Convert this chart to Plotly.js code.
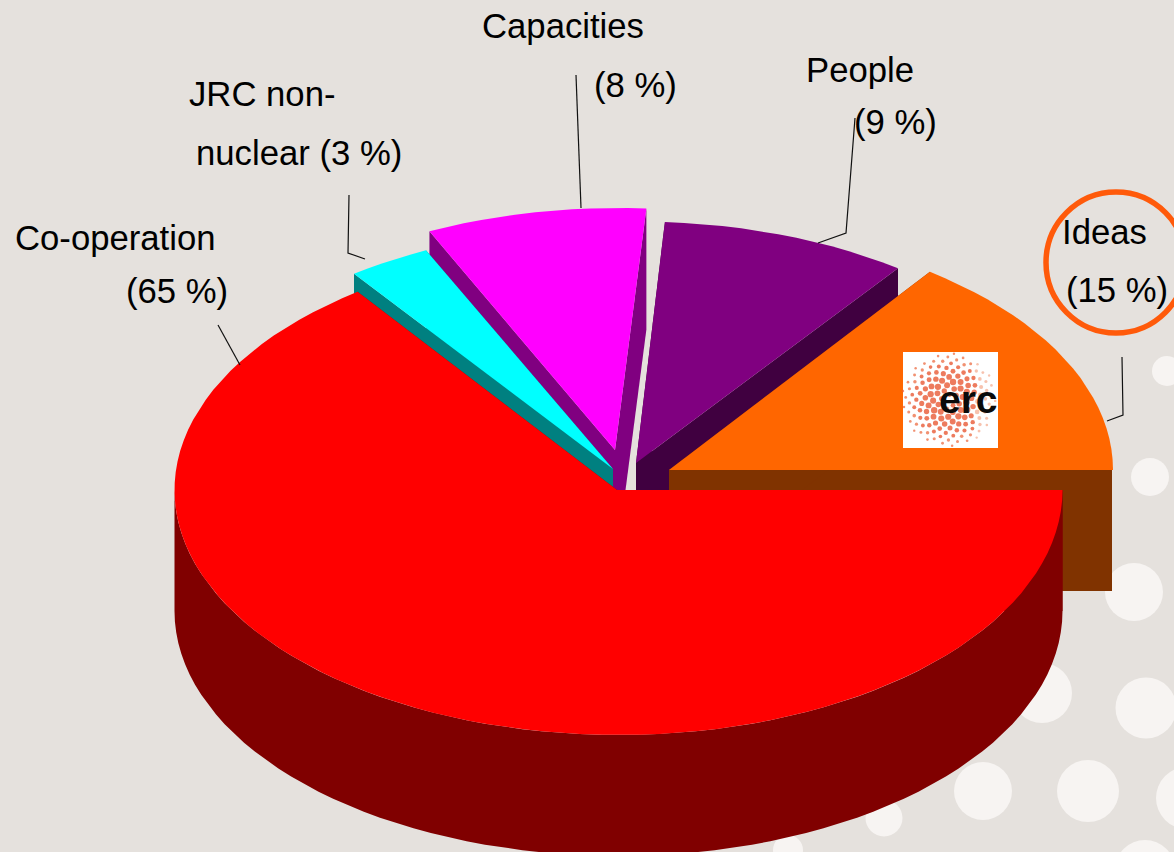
<!DOCTYPE html>
<html>
<head>
<meta charset="utf-8">
<script src="https://cdn.plot.ly/plotly-3.0.1.min.js"></script>
<style>html,body{margin:0;padding:0;background:#E5E1DD}#chart{width:1174px;height:852px}</style>
</head>
<body>
<div id="chart"></div>
<script>
// Data
const categories = ["Ideas", "People", "Capacities", "JRC non-nuclear", "Co-operation"];
const shares = [15, 9, 8, 3, 65];
const topColors = ["#FF6600", "#800080", "#FF00FF", "#00FFFF", "#FF0000"];
const sideColors = ["#803300", "#400040", "#800080", "#008080", "#800000"];
// Visible tip of each exploded slice, and centre of its rim ellipse, in picture pixels
const tipX = [669, 636, 615, 613, 617];
const tipY = [470, 463, 450, 469, 490];
const rimX = [669, 637, 618.5, 615, 618.5];
const rimY = [470, 466.5, 453, 472, 490];
const drawOrder = [2, 1, 0, 3, 4];
const radiusX = 444, radiusY = 245, depth = 121;

// Label texts
const labelTexts = ["Capacities", "(8 %)", "JRC non-", "nuclear (3 %)", "People", "(9 %)", "Co-operation", "(65 %)", "Ideas", "(15 %)"];
const labelX = [481, 593, 188, 195, 805, 853, 14, 125, 1061, 1065];
const labelY = [26, 85, 94, 153, 70, 122, 238, 291, 232, 290];

// Leader lines
const leaderX = [[576, 581], [349, 348, 365], [855, 846, 818], [1122, 1123, 1107], [218, 240]];
const leaderY = [[75, 208], [195, 253, 259], [118, 233, 243], [357, 415, 421], [325, 365]];

// Background decoration
const dotX = [1167, 1150, 1134, 1042, 1146, 983, 1088, 1187, 884, 788, 1145];
const dotY = [371, 477, 592, 693, 708, 791, 791, 798, 818, 850, 870];
const dotR = [15, 19, 29, 30, 30.5, 29, 31, 31, 18.5, 15, 30];

const rad = d => d * Math.PI / 180;
function arc(cx, cy, a0, a1, dy) {
  const xs = [], ys = [], n = Math.max(1, Math.ceil(Math.abs(a1 - a0) / 2.5));
  for (let i = 0; i <= n; i++) {
    const t = rad(a0 + (a1 - a0) * i / n);
    xs.push(cx + radiusX * Math.cos(t));
    ys.push(cy - radiusY * Math.sin(t) + dy);
  }
  return [xs, ys];
}
function poly(xs, ys, color, name) {
  return {type: "scatter", mode: "lines", x: xs.concat(xs[0]), y: ys.concat(ys[0]), fill: "toself",
    fillcolor: color, line: {width: 0, color: color}, name: name, hoverinfo: "name", showlegend: false};
}

const traces = [];
const starts = [];
shares.reduce((sum, v, i) => { starts[i] = sum; return sum + v; }, 0);
drawOrder.forEach(i => {
  const a0 = starts[i] * 3.6, a1 = (starts[i] + shares[i]) * 3.6;
  const tx0 = tipX[i], ty0 = tipY[i], cx = rimX[i], cy = rimY[i];
  [a0, a1].forEach(a => {
    const [ex, ey] = arc(cx, cy, a, a, 0);
    const sx = Math.min(ex[0], 1112);
    traces.push(poly([tx0, sx, sx, tx0], [ty0, ey[0], ey[0] + depth, ty0 + depth], sideColors[i], categories[i]));
  });
  const b0 = Math.max(a0, 180), b1 = Math.min(a1, 360);
  if (b1 > b0) {
    const [tx, ty] = arc(cx, cy, b0, b1, 0);
    const [bx, by] = arc(cx, cy, b1, b0, depth);
    traces.push(poly(tx.concat(bx), ty.concat(by), sideColors[i], categories[i]));
  }
  const [wx, wy] = arc(cx, cy, a0, a1, 0);
  traces.push(poly([tx0].concat(wx), [ty0].concat(wy), topColors[i], categories[i]));
});

// Logo: white tile and dotted disc
traces.push(poly([903, 998, 998, 903], [352, 352, 448, 448], "#FFFFFF", "erc"));
const lx = [], ly = [], ls = [], lc = [];
for (let n = 2; n < 150; n++) {
  const r = 3.85 * Math.sqrt(n), t = n * 2.39996;
  const x = 949 + r * Math.cos(t), y = 400 + r * Math.sin(t);
  lx.push(x); ly.push(y);
  ls.push(Math.max(1.8, 6.4 - Math.abs(r - 18) * 0.14));
  lc.push(x > 975 ? "#F4A88C" : (r > 38 ? "#EB6236" : "#E5431A"));
}
traces.push({type: "scatter", mode: "markers", x: lx, y: ly, hoverinfo: "skip", showlegend: false,
  marker: {size: ls, color: lc, line: {width: 0}}});

// Leaders
leaderX.forEach((xs, i) => traces.push({type: "scatter", mode: "lines", x: xs, y: leaderY[i],
  line: {color: "#111111", width: 1.2}, hoverinfo: "skip", showlegend: false}));

const shapes = dotX.map((x, i) => ({type: "circle", layer: "below", xref: "x", yref: "y",
  x0: x - dotR[i], x1: x + dotR[i], y0: dotY[i] - dotR[i], y1: dotY[i] + dotR[i],
  fillcolor: "#F7F4F2", line: {width: 0}}));
shapes.push({type: "circle", layer: "above", xref: "x", yref: "y", x0: 1046, x1: 1186, y0: 192, y1: 333,
  fillcolor: "rgba(0,0,0,0)", line: {color: "#FF5A0A", width: 5.5}});

const annotations = labelTexts.map((t, i) => ({xref: "x", yref: "y", x: labelX[i], y: labelY[i], text: t,
  showarrow: false, xanchor: "left", yanchor: "middle", borderpad: 0,
  font: {family: "Liberation Sans, Arial, sans-serif", size: 34.7, color: "#000000"}}));
annotations.push({xref: "x", yref: "y", x: 968.5, y: 399, text: "<b>erc</b>", showarrow: false, xanchor: "center", yanchor: "middle",
  font: {family: "Liberation Sans, Arial, sans-serif", size: 39, color: "#0A0A0A"}});

Plotly.newPlot("chart", traces, {
  width: 1174, height: 852, margin: {l: 0, r: 0, t: 0, b: 0},
  paper_bgcolor: "#E5E1DD", plot_bgcolor: "#E5E1DD", showlegend: false, hovermode: "closest",
  xaxis: {range: [0, 1174], visible: false, fixedrange: true},
  yaxis: {range: [852, 0], visible: false, fixedrange: true},
  shapes: shapes, annotations: annotations
}, {displayModeBar: false, staticPlot: true});
</script>
</body>
</html>
